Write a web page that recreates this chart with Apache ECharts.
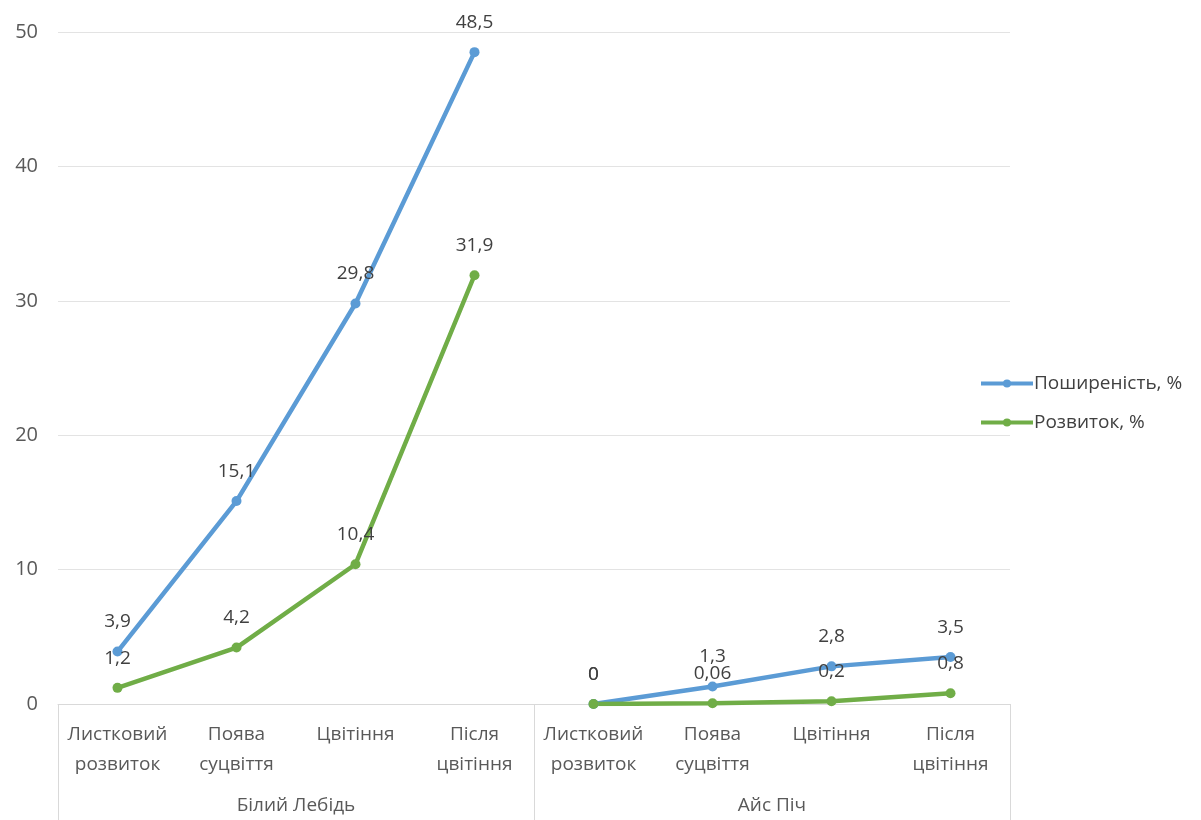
<!DOCTYPE html>
<html><head><meta charset="utf-8">
<script src="https://cdn.jsdelivr.net/npm/echarts@6/dist/echarts.min.js"></script>
<style>html,body{margin:0;padding:0;background:#fff}#c{width:1201px;height:820px}</style>
</head><body><div id="c"></div>
<script>
const stages = ['Листковий\nрозвиток','Поява\nсуцвіття','Цвітіння','Після\nцвітіння'];
const groups = ['Білий Лебідь','Айс Піч'];
const categories = stages.concat(stages);
const spreadWhiteSwan = [3.9, 15.1, 29.8, 48.5];
const spreadIcePeach = [0, 1.3, 2.8, 3.5];
const devWhiteSwan = [1.2, 4.2, 10.4, 31.9];
const devIcePeach = [0, 0.06, 0.2, 0.8];
const yTicks = {min: 0, max: 50, interval: 10};

const N = null;
function padFirst(a){ return a.concat([N,N,N,N]); }
function padSecond(a){ return [N,N,N,N].concat(a); }
const fontFam = '"Open Sans","Noto Sans",sans-serif';
const lbl = {
  show: true, position: 'top', distance: 15, color: '#404040', fontSize: 19, fontFamily: fontFam,
  formatter: p => String(p.value).replace('.', ',')
};
function mk(name, data, color){
  return {
    name, type: 'line', data, xAxisIndex: 0, symbol: 'circle', symbolSize: 10,
    lineStyle: {width: 4.5, color}, itemStyle: {color}, label: lbl, connectNulls: false
  };
}
const chart = echarts.init(document.getElementById('c'));
chart.setOption({
  animation: false,
  textStyle: {fontFamily: fontFam},
  grid: {left: 58, right: 191, top: 32, bottom: 116},
  legend: {
    orient: 'vertical', left: 974, top: 369, itemWidth: 52, itemHeight: 10, itemGap: 20,
    lineStyle: {width: 4},
    textStyle: {color: '#404040', fontSize: 19, fontFamily: fontFam, padding: [0,0,0,-4]},
    data: ['Поширеність, %', 'Розвиток, %']
  },
  xAxis: [
    {type: 'category', data: categories, boundaryGap: true,
     axisLine: {lineStyle: {color: '#d9d9d9'}}, axisTick: {show: false},
     axisLabel: {interval: 0, color: '#595959', fontSize: 19, lineHeight: 30, margin: 16, fontFamily: fontFam}},
    {type: 'category', data: groups, position: 'bottom', boundaryGap: true,
     axisLine: {show: false},
     axisTick: {show: true, length: 116, interval: 0, lineStyle: {color: '#d9d9d9'}},
     axisLabel: {interval: 0, color: '#595959', fontSize: 19, margin: 92, fontFamily: fontFam}}
  ],
  yAxis: {type: 'value', min: yTicks.min, max: yTicks.max, interval: yTicks.interval,
    axisLine: {show: false}, axisTick: {show: false},
    axisLabel: {color: '#595959', fontSize: 20, margin: 20, fontFamily: fontFam},
    splitLine: {lineStyle: {color: '#e3e3e3'}}},
  series: [
    mk('Поширеність, %', padFirst(spreadWhiteSwan), '#5B9BD5'),
    mk('Поширеність, %', padSecond(spreadIcePeach), '#5B9BD5'),
    mk('Розвиток, %', padFirst(devWhiteSwan), '#70AD47'),
    mk('Розвиток, %', padSecond(devIcePeach), '#70AD47')
  ]
});
</script></body></html>
